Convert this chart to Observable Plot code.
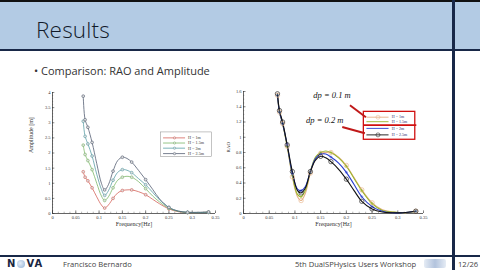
<!DOCTYPE html>
<html><head><meta charset="utf-8">
<script src="https://cdn.jsdelivr.net/npm/d3@7"></script>
<script src="https://cdn.jsdelivr.net/npm/@observablehq/plot@0.6"></script>
<style>
html,body{margin:0;padding:0;}
body{width:480px;height:270px;overflow:hidden;background:#fff;position:relative;font-family:"Open Sans",sans-serif;}
.abs{position:absolute;}
#topbar{left:0;top:0;width:480px;height:1.5px;background:#111;}
#band{left:0;top:1.5px;width:480px;height:47.5px;background:#b3cbe4;}
#hline{left:0;top:49px;width:480px;height:2px;background:#182848;}
#vline{left:452px;top:0;width:2.5px;height:270px;background:#182848;}
#bline{left:0;top:255px;width:480px;height:2px;background:#182848;}
#title{left:36px;top:14px;font-size:22.5px;font-weight:300;color:#111a2a;letter-spacing:0.2px;}
#bullet{left:34px;top:63px;font-size:11px;color:#333;font-weight:400;}
#nova{left:7px;top:258px;font-size:10px;font-weight:800;color:#1a2540;letter-spacing:1px;font-family:"DejaVu Sans",sans-serif;}
#nova span{display:inline-block;width:8px;height:8px;border-radius:50%;background:radial-gradient(circle at 40% 40%,#e6eef8,#8fb0d6);vertical-align:-0.5px;margin:0 1px;}
#author{left:63px;top:259px;font-size:7.6px;color:#444;}
#conf{left:295px;top:259px;font-size:7.6px;color:#444;}
#logo{left:424px;top:259px;width:22px;height:9px;background:linear-gradient(90deg,#dfe7f2,#9fb4d4,#dfe7f2);border-radius:2px;opacity:0.8;}
#page{left:458px;top:259px;font-size:7.6px;color:#444;}
#c1{left:20px;top:85px;}
#c2{left:225px;top:85px;}
</style></head><body>
<div class="abs" id="band"></div>
<div class="abs" id="topbar"></div>
<div class="abs" id="hline"></div>
<div class="abs" id="bline"></div>
<div class="abs" id="vline"></div>
<div class="abs" id="title">Results</div>
<div class="abs" id="bullet">• Comparison: RAO and Amplitude</div>
<div class="abs" id="nova">N<span></span>VA</div>
<div class="abs" id="author">Francisco Bernardo</div>
<div class="abs" id="conf">5th DualSPHysics Users Workshop</div>
<div class="abs" id="logo"></div>
<div class="abs" id="page">12/26</div>
<div class="abs" id="c1"></div>
<div class="abs" id="c2"></div>
<script>
// ---- data ----
const seriesLabels = ["H = 1m", "H = 1.5m", "H = 2m", "H = 2.5m"];
const freq = [0.066,0.07,0.076,0.085,0.095,0.105,0.112,0.12,0.13,0.14,0.15,0.16,0.17,0.185,0.2,0.215,0.23,0.25,0.27,0.29,0.31,0.335];
// Amplitude [m] (left chart)
const ampH1  = [1.38,1.2,1.08,0.85,0.55,0.28,0.18,0.28,0.5,0.68,0.76,0.78,0.78,0.72,0.62,0.47,0.32,0.15,0.06,0.03,0.03,0.04];
const ampH15 = [2.26,1.95,1.75,1.45,1.0,0.58,0.43,0.55,0.85,1.1,1.2,1.23,1.2,1.05,0.82,0.58,0.38,0.17,0.07,0.03,0.03,0.04];
const ampH2  = [3.05,2.55,2.3,1.9,1.3,0.8,0.6,0.75,1.1,1.36,1.45,1.43,1.35,1.15,0.95,0.7,0.45,0.2,0.08,0.04,0.03,0.04];
const ampH25 = [3.88,3.1,2.85,2.35,1.65,1.0,0.78,0.95,1.4,1.75,1.86,1.82,1.7,1.42,1.12,0.8,0.48,0.2,0.08,0.04,0.04,0.05];
// RAO (right chart)
const raoH1  = [1.55,1.33,1.18,0.88,0.48,0.22,0.17,0.26,0.53,0.72,0.79,0.8,0.8,0.74,0.63,0.47,0.31,0.14,0.05,0.02,0.01,0.03];
const raoH15 = [1.55,1.33,1.18,0.88,0.5,0.25,0.22,0.3,0.55,0.74,0.8,0.82,0.8,0.73,0.62,0.46,0.3,0.13,0.04,0.02,0.01,0.03];
const raoH2  = [1.55,1.33,1.18,0.9,0.52,0.32,0.3,0.35,0.55,0.72,0.78,0.78,0.74,0.66,0.54,0.38,0.22,0.09,0.03,0.01,0.01,0.03];
const raoH25 = [1.57,1.35,1.2,0.9,0.55,0.3,0.27,0.33,0.55,0.7,0.75,0.73,0.68,0.58,0.45,0.3,0.16,0.06,0.02,0.01,0.01,0.03];
const markLeft  = [0.066,0.07,0.076,0.085,0.112,0.13,0.15,0.17,0.2,0.25,0.29,0.335];
const markRight = [0.066,0.07,0.076,0.085,0.095,0.112,0.13,0.15,0.17,0.2,0.23,0.25,0.335];
const freqTicks = [0,0.05,0.1,0.15,0.2,0.25,0.3,0.35];
const ampTicks  = [0,0.5,1,1.5,2,2.5,3,3.5,4];
const raoTicks  = [0,0.2,0.4,0.6,0.8,1,1.2,1.4,1.6];
const leftColors  = ["#d4635a","#7cb86a","#5a9ea6","#566074"];
const rightColors = ["#e6b084","#9ab52a","#2a3fd0","#111111"];
const dpLabels = ["dp = 0.1 m","dp = 0.2 m"];
const dpX = [0.172,0.158];
const dpY = [1.547,1.227];
const arrowX1 = [0.207,0.192], arrowY1 = [1.42,1.135];
const arrowX2 = [0.238,0.236], arrowY2 = [1.263,1.052];

// ---- helpers ----
const fmt = d => String(+d.toFixed(3));
function tidy(arrs){
  const out=[];
  arrs.forEach((a,i)=>a.forEach((v,j)=>out.push({s:seriesLabels[i],f:freq[j],v})));
  return out;
}
const ampData = tidy([ampH1,ampH15,ampH2,ampH25]);
const raoData = tidy([raoH1,raoH15,raoH2,raoH25]);
const dpData = dpLabels.map((t,i)=>({t,x:dpX[i],y:dpY[i],x1:arrowX1[i],y1:arrowY1[i],x2:arrowX2[i],y2:arrowY2[i]}));
const minorF = d3.range(0,0.3501,0.0125);

function axisMarks(yTicks, yMax, yMinorStep){
  const minorY = d3.range(0,yMax+1e-9,yMinorStep);
  return [
    Plot.ruleY([0],{stroke:"#222",strokeWidth:0.7}),
    Plot.ruleX([0],{stroke:"#222",strokeWidth:0.7}),
    Plot.ruleX(freqTicks,{x:d=>d,y1:0,y2:yMax*0.022,stroke:"#222",strokeWidth:0.5}),
    Plot.ruleX(minorF,{x:d=>d,y1:0,y2:yMax*0.011,stroke:"#444",strokeWidth:0.4}),
    Plot.ruleY(yTicks,{y:d=>d,x1:0,x2:0.005,stroke:"#222",strokeWidth:0.5}),
    Plot.ruleY(minorY,{y:d=>d,x1:0,x2:0.0025,stroke:"#444",strokeWidth:0.4}),
    Plot.axisX({ticks:freqTicks,tickSize:0,tickPadding:2,tickFormat:fmt,label:null,fontSize:4.5}),
    Plot.axisY({ticks:yTicks,tickSize:0,tickPadding:2,tickFormat:fmt,label:null,fontSize:4.5}),
    Plot.text(["Frequency[Hz]"],{frameAnchor:"bottom",dy:12,fontSize:6})
  ];
}

// ---- left chart: amplitude ----
const legL = seriesLabels.map((s,i)=>({s, y:[2.5,2.33,2.16,1.98][i]}));
const left = Plot.plot({
  width:200,height:145,marginLeft:32,marginRight:5,marginTop:7,marginBottom:17,
  x:{domain:[0,0.35]}, y:{domain:[0,4]},
  color:{domain:seriesLabels,range:leftColors},
  style:{fontFamily:"Liberation Serif",fontSize:"4.5px",color:"#333",background:"transparent",overflow:"visible"},
  marks:[
    ...axisMarks(ampTicks,4,0.1),
    Plot.text(["Amplitude [m]"],{frameAnchor:"left",rotate:-90,dx:-21,fontSize:6}),
    Plot.line(ampData,{x:"f",y:"v",stroke:"s",curve:"catmull-rom",strokeWidth:0.8}),
    Plot.dot(ampData.filter(d=>markLeft.includes(d.f)),{x:"f",y:"v",stroke:"s",r:1.4,fill:"#ddd",strokeWidth:0.6}),
    // legend
    Plot.rect([0],{x1:0.233,x2:0.343,y1:1.86,y2:2.68,stroke:"#888",strokeWidth:0.5,fill:"#fff"}),
    Plot.ruleY(legL,{y:"y",x1:0.2385,x2:0.2857,stroke:"s",strokeWidth:0.8}),
    Plot.dot(legL,{x:0.262,y:"y",stroke:"s",r:1.2,fill:"#ddd",strokeWidth:0.5}),
    Plot.text(legL,{x:0.291,y:"y",text:"s",textAnchor:"start",fontSize:4.2,fill:"#333"})
  ]
});
document.getElementById("c1").appendChild(left);

// ---- right chart: RAO ----
const legR = seriesLabels.map((s,i)=>({s, y:[1.263,1.204,1.116,1.031][i]}));
const right = Plot.plot({
  width:205,height:145,marginLeft:18,marginRight:7,marginTop:6,marginBottom:17,
  x:{domain:[0,0.35]}, y:{domain:[0,1.6]},
  color:{domain:seriesLabels,range:rightColors},
  style:{fontFamily:"Liberation Serif",fontSize:"4.5px",color:"#333",background:"transparent",overflow:"visible"},
  marks:[
    ...axisMarks(raoTicks,1.6,0.05),
    Plot.text(["RAO"],{frameAnchor:"left",rotate:-90,dx:-15,fontSize:5}),
    Plot.line(raoData,{x:"f",y:"v",stroke:"s",curve:"catmull-rom",strokeWidth:1.1}),
    Plot.dot(raoData.filter(d=>markRight.includes(d.f)&&(d.s==="H = 1m"||d.s==="H = 2.5m")),{x:"f",y:"v",stroke:"s",r:2.2,fill:"none",strokeWidth:0.6}),
    Plot.dot(raoData.filter(d=>markRight.includes(d.f)&&(d.s==="H = 1.5m"||d.s==="H = 2m")),{x:"f",y:"v",stroke:"s",r:1,fill:"none",strokeWidth:0.5}),
    // legend
    Plot.rect([0],{x1:0.234,x2:0.334,y1:0.967,y2:1.333,stroke:"#d01010",strokeWidth:1.3,fill:"#fff"}),
    Plot.ruleY(legR,{y:"y",x1:0.240,x2:0.283,stroke:"s",strokeWidth:0.9}),
    Plot.dot(legR.filter(d=>d.s==="H = 1m"||d.s==="H = 2.5m"),{x:0.2615,y:"y",stroke:"s",r:2,fill:"none",strokeWidth:0.5}),
    Plot.text(legR,{x:0.2885,y:"y",text:"s",textAnchor:"start",fontSize:4,fill:"#1a2a6a"}),
    Plot.ruleY([1.158],{x1:0.234,x2:0.337,stroke:"#d01010",strokeWidth:1.8}),
    // annotation arrows and labels
    Plot.link(dpData,{x1:"x1",y1:"y1",x2:"x2",y2:"y2",stroke:"#c01818",strokeWidth:2}),
    Plot.text(dpData,{x:"x",y:"y",text:"t",fontSize:8.5,fontStyle:"italic",fill:"#111",fontFamily:"Liberation Serif"})
  ]
});
document.getElementById("c2").appendChild(right);
</script>
</body></html>
